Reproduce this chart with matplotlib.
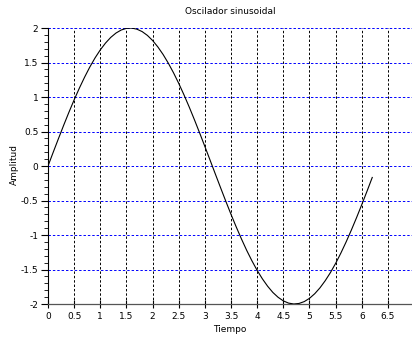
import numpy as np
import matplotlib
matplotlib.use("Agg")
import matplotlib.pyplot as plt
from matplotlib.ticker import MultipleLocator

# valores
tiempo = [0.0, 0.1, 0.2, 0.3, 0.4, 0.5, 0.6, 0.7, 0.8, 0.9,
          1.0, 1.1, 1.2, 1.3, 1.4, 1.5, 1.6, 1.7, 1.8, 1.9,
          2.0, 2.1, 2.2, 2.3, 2.4, 2.5, 2.6, 2.7, 2.8, 2.9,
          3.0, 3.1, 3.2, 3.3, 3.4, 3.5, 3.6, 3.7, 3.8, 3.9,
          4.0, 4.1, 4.2, 4.3, 4.4, 4.5, 4.6, 4.7, 4.8, 4.9,
          5.0, 5.1, 5.2, 5.3, 5.4, 5.5, 5.6, 5.7, 5.8, 5.9,
          6.0, 6.1, 6.2]
amplitud = [0.0, 0.200, 0.397, 0.591, 0.779, 0.959, 1.129, 1.288, 1.435, 1.567,
            1.683, 1.782, 1.864, 1.927, 1.971, 1.995, 1.999, 1.983, 1.948, 1.893,
            1.819, 1.726, 1.617, 1.491, 1.351, 1.197, 1.031, 0.855, 0.670, 0.478,
            0.282, 0.083, -0.117, -0.315, -0.511, -0.702, -0.885, -1.059, -1.224, -1.375,
            -1.514, -1.636, -1.743, -1.833, -1.903, -1.955, -1.987, -2.000, -1.992, -1.965,
            -1.918, -1.851, -1.766, -1.663, -1.545, -1.411, -1.262, -1.101, -0.929, -0.748,
            -0.559, -0.365, -0.166]
xticks = [0, 0.5, 1, 1.5, 2, 2.5, 3, 3.5, 4, 4.5, 5, 5.5, 6, 6.5]
yticks = [-2, -1.5, -1, -0.5, 0, 0.5, 1, 1.5, 2]

plt.rcParams["axes.unicode_minus"] = False
plt.rcParams["font.family"] = "DejaVu Sans"

fig = plt.figure(figsize=(4.12, 3.38), dpi=100)
ax = fig.add_axes([48 / 412, 1 - 304 / 338, 1 - 48 / 412, (304 - 28) / 338])

ax.plot(tiempo, amplitud, color="black", linewidth=0.8, zorder=3)

ax.set_xlim(0, 6.96)
ax.set_ylim(-2, 2)

# rejilla: vertical negra, horizontal azul
for x in xticks[1:]:
    ax.axvline(x, color="black", linestyle=(0, (2.5, 2)), linewidth=0.7, zorder=1)
for y in yticks[1:]:
    ax.axhline(y, color="#0000ff", linestyle=(0, (2.5, 2)), linewidth=0.7, zorder=1)

ax.set_xticks(xticks)
ax.set_xticklabels([f"{v:g}" for v in xticks])
ax.set_yticks(yticks)
ax.set_yticklabels([f"{v:g}" for v in yticks])
ax.yaxis.set_minor_locator(MultipleLocator(0.1))

for s in ["top", "right"]:
    ax.spines[s].set_visible(False)
ax.spines["left"].set_color("black")
ax.spines["left"].set_linewidth(0.8)
ax.spines["bottom"].set_color("#555555")
ax.spines["bottom"].set_linewidth(0.9)

ax.tick_params(axis="x", direction="inout", length=6, width=0.8, labelsize=6.5, pad=3)
ax.tick_params(axis="y", which="major", direction="out", length=5, width=0.8, labelsize=6.5, pad=2)
ax.tick_params(axis="y", which="minor", direction="out", length=3, width=0.6)

fig.text(230 / 412, 1 - 11 / 338, "Oscilador sinusoidal", fontsize=6.5,
         ha="center", va="center")
fig.text(230 / 412, 1 - 330 / 338, "Tiempo", fontsize=6.5, ha="center", va="center")
fig.text(14 / 412, 1 - 165 / 338, "Amplitud", fontsize=6.5, ha="center", va="center",
         rotation=90)

fig.savefig("out.png", dpi=100)
